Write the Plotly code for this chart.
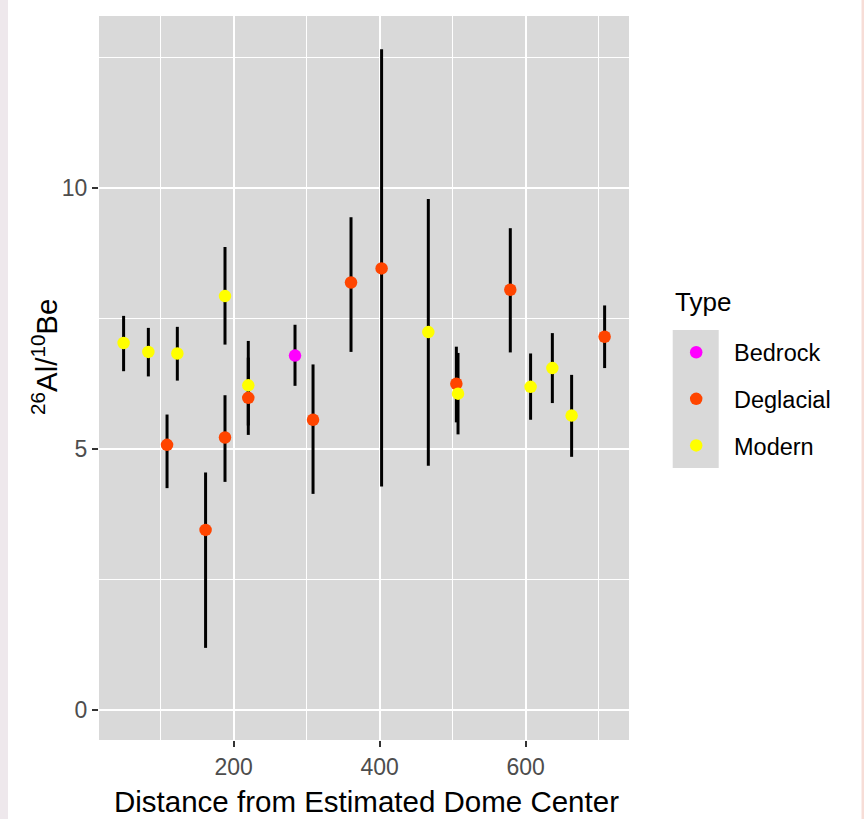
import plotly.graph_objects as go

# ---- data ----
distance = [49.3, 83.2, 122.9, 108.8, 161.6, 188.2, 188.2, 220.1, 220.1, 284.1, 308.8,
            360.8, 402.7, 466.7, 505.1, 507.4, 579.0, 606.8, 636.6, 663.0, 708.2]
ratio = [7.03, 6.86, 6.83, 5.08, 3.45, 7.93, 5.22, 6.22, 5.98, 6.79, 5.56,
         8.19, 8.46, 7.24, 6.25, 6.06, 8.05, 6.19, 6.55, 5.64, 7.15]
ratio_low = [6.49, 6.39, 6.31, 4.25, 1.19, 7.00, 4.37, 5.45, 5.27, 6.21, 4.14,
             6.86, 4.28, 4.68, 5.51, 5.28, 6.85, 5.56, 5.88, 4.85, 6.55]
ratio_high = [7.55, 7.32, 7.34, 5.66, 4.55, 8.87, 6.03, 7.07, 6.75, 7.38, 6.62,
              9.44, 12.66, 9.79, 6.96, 6.84, 9.23, 6.83, 7.22, 6.42, 7.75]
sample_type = ["Modern", "Modern", "Modern", "Deglacial", "Deglacial", "Modern", "Deglacial",
               "Modern", "Deglacial", "Bedrock", "Deglacial", "Deglacial", "Deglacial",
               "Modern", "Deglacial", "Modern", "Deglacial", "Modern", "Modern", "Modern",
               "Deglacial"]
type_levels = ["Bedrock", "Deglacial", "Modern"]
type_colors = {"Bedrock": "#FF00FF", "Deglacial": "#FF4500", "Modern": "#FFFF00"}

x_ticks = [200, 400, 600]
y_ticks = [0, 5, 10]

FONT = "Liberation Sans, Arial, Helvetica, sans-serif"
W, H = 864, 819
ML, MR, MT, MB = 99, 235, 16, 79
PW, PH = W - ML - MR, H - MT - MB


def pxx(px):
    return (px - ML) / PW


def pxy(py):
    return (H - MB - py) / PH


fig = go.Figure()

# error bars (drawn beneath all points)
fig.add_trace(go.Scatter(
    x=distance, y=ratio, mode="markers",
    marker=dict(size=1, opacity=0),
    error_y=dict(type="data", symmetric=False,
                 array=[h - v for h, v in zip(ratio_high, ratio)],
                 arrayminus=[v - l for v, l in zip(ratio, ratio_low)],
                 color="black", thickness=3, width=0),
    showlegend=False, hoverinfo="skip"))

for t in type_levels:
    xs = [d for d, s in zip(distance, sample_type) if s == t]
    ys = [r for r, s in zip(ratio, sample_type) if s == t]
    fig.add_trace(go.Scatter(
        x=xs, y=ys, mode="markers", name=t, legendgroup=t,
        marker=dict(color=type_colors[t], size=12.5, line=dict(width=0))))

grid_major = dict(showgrid=True, gridcolor="white", gridwidth=2.2)
fig.update_xaxes(range=[15.6, 741.6], tickmode="array", tickvals=x_ticks,
                 ticktext=[str(v) for v in x_ticks],
                 ticks="outside", ticklen=6, tickwidth=1.5, tickcolor="#333333",
                 tickfont=dict(family=FONT, size=23, color="#4D4D4D"),
                 minor=dict(showgrid=True, gridcolor="white", gridwidth=1.1,
                            tickmode="array", tickvals=[100, 300, 500, 700]),
                 zeroline=False, showline=False, **grid_major)
fig.update_yaxes(range=[-0.575, 13.295], tickmode="array", tickvals=y_ticks,
                 ticktext=[str(v) for v in y_ticks],
                 ticks="outside", ticklen=6, tickwidth=1.5, tickcolor="#333333",
                 tickfont=dict(family=FONT, size=23, color="#4D4D4D"),
                 minor=dict(showgrid=True, gridcolor="white", gridwidth=1.1,
                            tickmode="array", tickvals=[2.5, 7.5, 12.5]),
                 zeroline=False, showline=False, **grid_major)

shapes = [
    # legend key background
    dict(type="rect", xref="paper", yref="paper", x0=pxx(672.7), x1=pxx(718.7),
         y0=pxy(468), y1=pxy(330), fillcolor="#D9D9D9", line=dict(width=0), layer="below"),
    # screenshot edge strips
    dict(type="rect", xref="paper", yref="paper", x0=pxx(0), x1=pxx(8),
         y0=pxy(H), y1=pxy(0), fillcolor="#EEE8EC", line=dict(width=0), layer="below"),
    dict(type="rect", xref="paper", yref="paper", x0=pxx(861.5), x1=pxx(W),
         y0=pxy(H), y1=pxy(0), fillcolor="#F7DDD7", line=dict(width=0), layer="below"),
]

annotations = [
    dict(text="Distance from Estimated Dome Center", xref="paper", yref="paper",
         x=pxx(366), y=pxy(801), xanchor="center", yanchor="middle", showarrow=False,
         font=dict(family=FONT, size=29.5, color="black")),
    dict(text="<sup>26</sup>Al/<sup>10</sup>Be", xref="paper", yref="paper",
         x=pxx(44), y=pxy(357), xanchor="center", yanchor="middle", showarrow=False,
         textangle=-90, font=dict(family=FONT, size=29.5, color="black")),
    # legend title
    dict(text="Type", xref="paper", yref="paper",
         x=pxx(673), y=pxy(302), xanchor="left", yanchor="middle", showarrow=False,
         font=dict(family=FONT, size=26, color="black")),
]

fig.update_layout(
    width=W, height=H, margin=dict(l=ML, r=MR, t=MT, b=MB),
    paper_bgcolor="white", plot_bgcolor="#D9D9D9",
    shapes=shapes, annotations=annotations,
    legend=dict(x=pxx(658.4), xanchor="left", y=pxy(330.5), yanchor="top",
                font=dict(family=FONT, size=23.5, color="black"),
                tracegroupgap=13, itemwidth=65.6, bgcolor="rgba(0,0,0,0)"),
)

fig.write_html("out.html")
